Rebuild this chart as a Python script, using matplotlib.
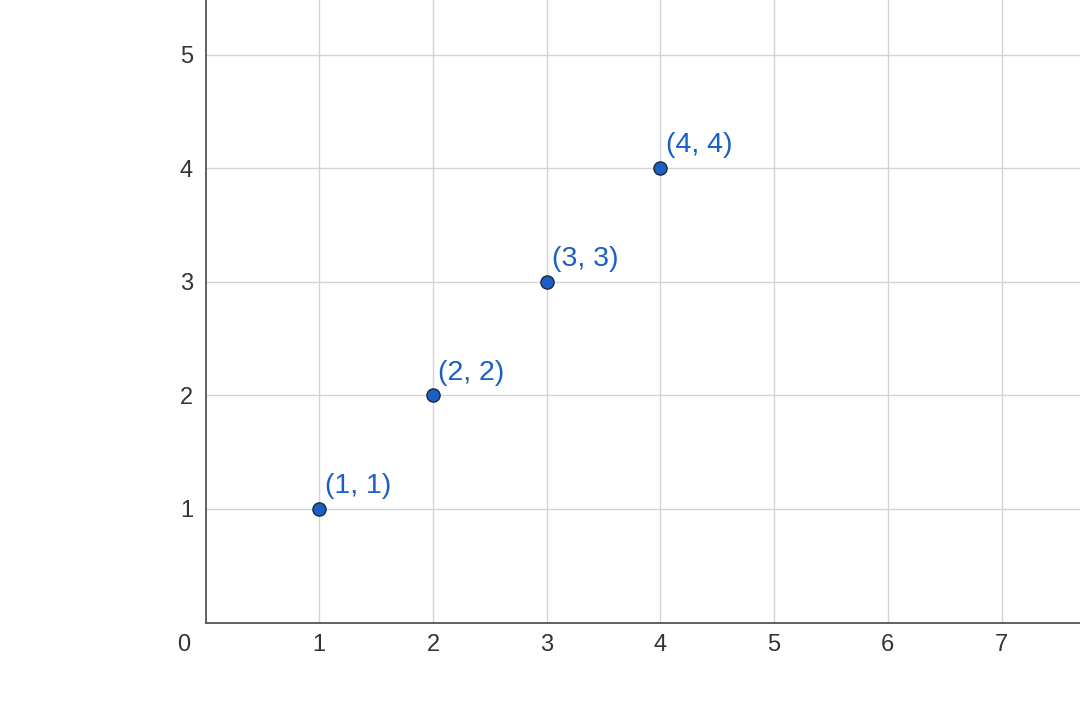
import matplotlib.pyplot as plt

plt.rcParams['font.family'] = ['Liberation Sans', 'DejaVu Sans']

# data points
x_vals = [1, 2, 3, 4]
y_vals = [1, 2, 3, 4]
labels = ['(1, 1)', '(2, 2)', '(3, 3)', '(4, 4)']

x_ticks = [1, 2, 3, 4, 5, 6, 7]
y_ticks = [1, 2, 3, 4, 5]

POINT_COLOR = '#1a5fc4'
TEXT_COLOR = '#333333'

fig = plt.figure(figsize=(10.8, 7.15), dpi=100)
ax = fig.add_axes([205.5 / 1080, 92.5 / 715, 874.5 / 1080, 622.5 / 715])

ax.scatter(x_vals, y_vals, s=90, color=POINT_COLOR, edgecolor='#1c2a3a',
           linewidth=1.0, zorder=3, clip_on=False)
for x, y, lab in zip(x_vals, y_vals, labels):
    ax.annotate(lab, (x, y), xytext=(4, 7), textcoords='offset points',
                color=POINT_COLOR, fontsize=20.5, ha='left', va='bottom')

ax.set_xlim(0, 7.69)
ax.set_ylim(0, 5.48)
ax.set_xticks(x_ticks)
ax.set_yticks(y_ticks)
ax.tick_params(length=0, labelsize=17, colors=TEXT_COLOR, pad=8)
ax.tick_params(axis='y', pad=9)
ax.grid(True, color='#d4d4d4', linewidth=1.0)
ax.set_axisbelow(True)

for side in ['top', 'right']:
    ax.spines[side].set_visible(False)
for side in ['left', 'bottom']:
    ax.spines[side].set_color('#555555')
    ax.spines[side].set_linewidth(1.3)

# origin label
ax.annotate('0', (0, 0), xytext=(-11, -8), textcoords='offset points',
            ha='right', va='top', fontsize=17, color=TEXT_COLOR,
            annotation_clip=False)

fig.savefig('out.png', dpi=100)
